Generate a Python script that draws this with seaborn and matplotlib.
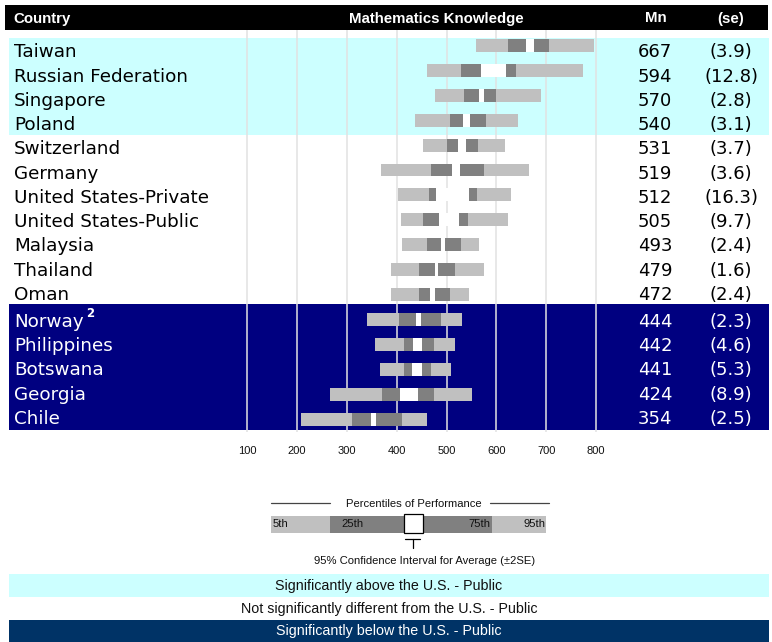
import numpy as np
import pandas as pd
import matplotlib
matplotlib.use("Agg")
import matplotlib.pyplot as plt
from matplotlib.transforms import blended_transform_factory
from matplotlib.patches import Rectangle
import seaborn as sns

# ---------------- data ----------------
countries = ["Taiwan", "Russian Federation", "Singapore", "Poland", "Switzerland",
             "Germany", "United States-Private", "United States-Public", "Malaysia",
             "Thailand", "Oman", "Norway", "Philippines", "Botswana", "Georgia", "Chile"]
group = ["above"] * 4 + ["same"] * 7 + ["below"] * 5
mean = [667, 594, 570, 540, 531, 519, 512, 505, 493, 479, 472, 444, 442, 441, 424, 354]
se = [3.9, 12.8, 2.8, 3.1, 3.7, 3.6, 16.3, 9.7, 2.4, 1.6, 2.4, 2.3, 4.6, 5.3, 8.9, 2.5]
p5 = [559, 461, 477, 437, 453, 368, 402, 408, 410, 388, 388, 340, 356, 366, 266, 208]
p25 = [623, 529, 535, 507, 501, 469, 465, 453, 461, 445, 445, 404, 414, 414, 370, 310]
p75 = [705, 639, 599, 579, 563, 575, 561, 543, 529, 517, 507, 489, 475, 469, 475, 410]
p95 = [796, 774, 689, 643, 617, 665, 629, 623, 565, 575, 545, 531, 517, 509, 551, 461]
footnotes = {"Norway": "2"}
ticks = [100, 200, 300, 400, 500, 600, 700, 800]
header = ["Country", "Mathematics Knowledge", "Mn", "(se)"]
band_labels = ["Significantly above the U.S. - Public",
               "Not significantly different from the U.S. - Public",
               "Significantly below the U.S. - Public"]
pct_labels = ["5th", "25th", "75th", "95th"]
legend_title = "Percentiles of Performance"
ci_label = "95% Confidence Interval for Average (\u00b12SE)"

# ---------------- style / layout ----------------
W, H = 772, 642
CYAN = "#ccffff"
NAVY = "#000080"
NAVY2 = "#003366"
LIGHT = "#c0c0c0"
DARK = "#808080"
GRID = "#e2e2e2"

sns.set_theme(style="white")
plt.rcParams["font.family"] = ["DejaVu Sans"]
SANS = ["Liberation Sans", "DejaVu Sans"]

fig = plt.figure(figsize=(W / 100, H / 100), dpi=100)
fig.patch.set_facecolor("white")

# background / pixel axes
bg = fig.add_axes([0, 0, 1, 1], zorder=0)
bg.set_xlim(0, W)
bg.set_ylim(H, 0)
bg.set_axis_off()

# data axes: x in score units, y in row index
X0PX = 247.3
PXU = (596.0 - 247.3) / 700.0
Y0, DY = 45.5, 24.9
ax = fig.add_axes([0, 0, 1, 1], zorder=1)

df = pd.DataFrame({"country": countries, "mean": mean, "se": se,
                   "p5": p5, "p25": p25, "p75": p75, "p95": p95})
df["outer"] = df["p95"] - df["p5"]
df["inner"] = df["p75"] - df["p25"]
df["ci_lo"] = df["mean"] - 2 * df["se"]
df["ci_w"] = 4 * df["se"]

# backgrounds
bg.add_patch(Rectangle((5, 5), 763, 25, facecolor="black", edgecolor="none"))
bg.add_patch(Rectangle((9, 37.7), 760, 97.3, facecolor=CYAN, edgecolor="none"))
bg.add_patch(Rectangle((9, 304), 760, 126, facecolor=NAVY, edgecolor="none"))

# gridlines
gtrans = blended_transform_factory(ax.transData, bg.transData)
ax.vlines(ticks, 30, 432, colors=GRID, linewidth=1.1, transform=gtrans, zorder=0.5)

# bars
BW = 13.0 / DY
sns.barplot(data=df, x="outer", y="country", orient="h", left=df["p5"].to_numpy(),
            color=LIGHT, saturation=1, width=BW, errorbar=None, linewidth=0, ax=ax)
sns.barplot(data=df, x="inner", y="country", orient="h", left=df["p25"].to_numpy(),
            color=DARK, saturation=1, width=BW, errorbar=None, linewidth=0, ax=ax)
sns.barplot(data=df, x="ci_w", y="country", orient="h", left=df["ci_lo"].to_numpy(),
            color="white", saturation=1, width=BW, errorbar=None, linewidth=0, ax=ax)

ax.set_xlim(100 - X0PX / PXU, 100 + (W - X0PX) / PXU)
ax.set_ylim((H - Y0) / DY, -Y0 / DY)
ax.set_axis_off()

# tick labels
for t in ticks:
    ax.text(t, 454, str(t), transform=gtrans, ha="center", va="baseline",
            fontsize=8, family=SANS, color="#111111")

# header
hkw = dict(color="white", fontsize=10.8, fontweight="bold", family=SANS, va="baseline")
bg.text(13, 22.5, header[0], ha="left", **hkw)
bg.text(436, 22.5, header[1], ha="center", **hkw)
bg.text(656, 22.5, header[2], ha="center", **hkw)
bg.text(731, 22.5, header[3], ha="center", **hkw)

# row texts
top_i = 0
bot_i = 0
for name, g, m, s in zip(countries, group, mean, se):
    if g == "below":
        yb = 326.7 + 24.3 * bot_i
        bot_i += 1
        col = "white"
    else:
        yb = 57.3 + 24.25 * top_i
        top_i += 1
        col = "black"
    bg.text(14, yb, name, ha="left", va="baseline", fontsize=13.2, color=col)
    if name in footnotes:
        bg.text(86, yb - 10, footnotes[name], ha="left", va="baseline",
                fontsize=8.5, fontweight="bold", color=col)
    bg.text(655, yb, f"{m}", ha="center", va="baseline", fontsize=13, color=col)
    bg.text(731, yb, f"({s:.1f})", ha="center", va="baseline", fontsize=13, color=col)

# ---------------- legend graphic ----------------
lkw = dict(fontsize=8.1, family=SANS, color="#111111", va="baseline")
bg.plot([271, 330], [503.3, 503.3], color="#444444", lw=0.9)
bg.plot([490, 549], [503.3, 503.3], color="#444444", lw=0.9)
bg.text(413.7, 507.3, legend_title, ha="center", **lkw)
bg.add_patch(Rectangle((271, 516), 275, 17.3, facecolor=LIGHT, edgecolor="none"))
bg.add_patch(Rectangle((330, 516), 162.3, 17.3, facecolor=DARK, edgecolor="none"))
bg.add_patch(Rectangle((404, 514), 19.3, 19.3, facecolor="white", edgecolor="black", lw=0.9))
bg.text(273, 527.3, pct_labels[0], ha="left", **lkw)
bg.text(341.5, 527.3, pct_labels[1], ha="left", **lkw)
bg.text(490, 527.3, pct_labels[2], ha="right", **lkw)
bg.text(545, 527.3, pct_labels[3], ha="right", **lkw)
bg.plot([405, 420], [539.3, 539.3], color="black", lw=0.9)
bg.plot([412.5, 412.5], [539.3, 548.3], color="black", lw=0.9)
bg.text(424.5, 563.5, ci_label, ha="center", **lkw)

# ---------------- significance bands ----------------
bg.add_patch(Rectangle((9, 574), 760, 23, facecolor=CYAN, edgecolor="none"))
bg.add_patch(Rectangle((9, 619.5), 760, 22.5, facecolor=NAVY2, edgecolor="none"))
bkw = dict(fontsize=10.3, family=SANS, ha="center", va="baseline")
bg.text(389, 590, band_labels[0], color="#111111", **bkw)
bg.text(389, 612.8, band_labels[1], color="#111111", **bkw)
bg.text(389, 635.5, band_labels[2], color="white", **bkw)

fig.savefig("out.png", dpi=100, facecolor="white")
